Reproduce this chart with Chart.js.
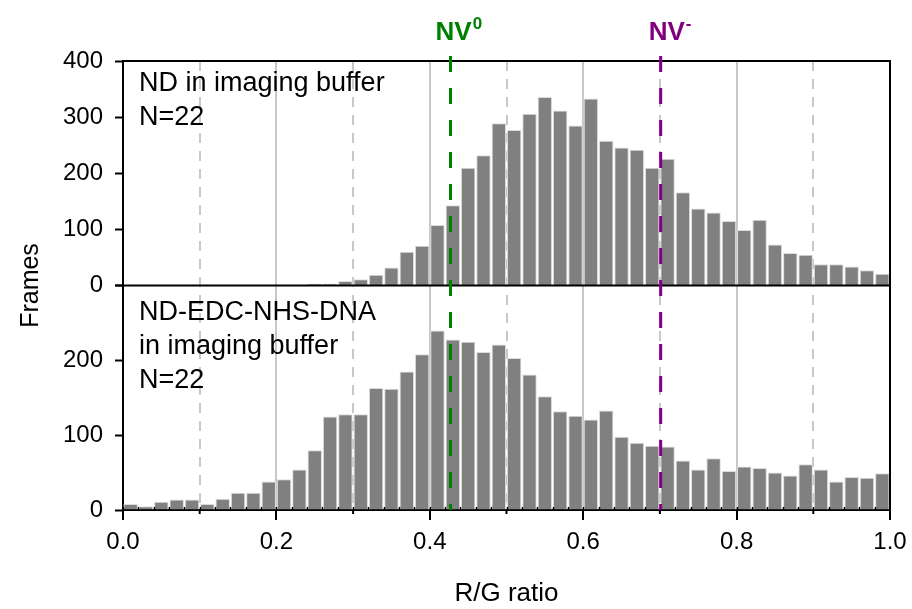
<!DOCTYPE html>
<html>
<head>
<meta charset="utf-8">
<script src="https://cdn.jsdelivr.net/npm/chart.js@4.4.1/dist/chart.umd.min.js"></script>
<style>
  html, body { margin: 0; padding: 0; background: #fff; }
  #wrap { width: 912px; height: 609px; }
</style>
</head>
<body>
<div id="wrap"><canvas id="ratioChart" width="912" height="609"></canvas></div>
<script>
// bin centres of the R/G ratio histogram (bin width 0.02)
const binCenters = [
  0.01, 0.03, 0.05, 0.07, 0.09, 0.11, 0.13, 0.15, 0.17, 0.19,
  0.21, 0.23, 0.25, 0.27, 0.29, 0.31, 0.33, 0.35, 0.37, 0.39,
  0.41, 0.43, 0.45, 0.47, 0.49, 0.51, 0.53, 0.55, 0.57, 0.59,
  0.61, 0.63, 0.65, 0.67, 0.69, 0.71, 0.73, 0.75, 0.77, 0.79,
  0.81, 0.83, 0.85, 0.87, 0.89, 0.91, 0.93, 0.95, 0.97, 0.99,
];

// top panel: ND in imaging buffer
const framesBuffer = [
  0, 0, 0, 0, 0, 0, 0, 0, 0, 0,
  0, 0, 3, 3, 8, 11, 19, 32, 60, 71,
  108, 143, 210, 232, 289, 277, 306, 336, 312, 285,
  333, 258, 246, 242, 210, 226, 166, 137, 130, 115,
  99, 117, 73, 58, 55, 38, 38, 34, 27, 21,
];

// bottom panel: ND-EDC-NHS-DNA in imaging buffer
const framesDna = [
  8, 5, 11, 14, 14, 8, 15, 23, 23, 38,
  41, 54, 80, 125, 128, 128, 163, 162, 185, 208,
  240, 228, 225, 211, 221, 203, 181, 152, 132, 126,
  121, 133, 98, 90, 86, 85, 66, 54, 69, 52,
  58, 56, 50, 46, 61, 54, 38, 44, 43, 49,
];

const topLabelLines = ["ND in imaging buffer", "N=22"];
const bottomLabelLines = ["ND-EDC-NHS-DNA", "in imaging buffer", "N=22"];

const nv0Ratio = 0.427;
const nvMinusRatio = 0.701;

const FONT = '"Liberation Sans", Arial, Helvetica, sans-serif';
const NV0_COLOR = "#008000";
const NVM_COLOR = "#800080";

Chart.defaults.font.family = FONT;
Chart.defaults.color = "#000";

function toPoints(values) {
  return binCenters.map((x, i) => ({ x, y: values[i] }));
}

function isOddTenth(value) {
  return Math.round(value * 10) % 2 === 1;
}

const decorPlugin = {
  id: "decorPlugin",
  afterDatasetsDraw(chart) {
    const { ctx, chartArea, scales } = chart;
    const { x, yTop } = scales;
    const mid = yTop.getPixelForValue(0);
    ctx.save();
    ctx.strokeStyle = "#000";
    ctx.lineWidth = 2;
    ctx.beginPath();
    ctx.moveTo(chartArea.left - 1, chartArea.top);
    ctx.lineTo(chartArea.right + 1, chartArea.top);
    ctx.moveTo(chartArea.right, chartArea.top);
    ctx.lineTo(chartArea.right, chartArea.bottom);
    ctx.moveTo(chartArea.left, mid);
    ctx.lineTo(chartArea.right, mid);
    ctx.stroke();

    // small inward ticks at bin edges on the bottom axis
    ctx.lineWidth = 1.5;
    ctx.beginPath();
    binCenters.forEach((c) => {
      const px = Math.round(x.getPixelForValue(c - 0.01)) + 0.5;
      ctx.moveTo(px, chartArea.bottom);
      ctx.lineTo(px, chartArea.bottom - 3);
    });
    ctx.stroke();

    // short outward ticks at odd tenths
    ctx.lineWidth = 2;
    ctx.beginPath();
    x.ticks.forEach((t) => {
      if (!isOddTenth(t.value)) return;
      const px = x.getPixelForValue(t.value);
      ctx.moveTo(px, chartArea.bottom);
      ctx.lineTo(px, chartArea.bottom + 4);
    });
    ctx.stroke();

    // NV reference lines
    ctx.lineWidth = 3;
    ctx.setLineDash([16, 16]);
    [[nv0Ratio, NV0_COLOR], [nvMinusRatio, NVM_COLOR]].forEach(([v, color]) => {
      const px = x.getPixelForValue(v);
      ctx.strokeStyle = color;
      ctx.beginPath();
      ctx.moveTo(px, chartArea.top - 5);
      ctx.lineTo(px, chartArea.bottom);
      ctx.stroke();
    });
    ctx.restore();
  },
  afterDraw(chart) {
    const { ctx, chartArea, scales } = chart;
    const { x, yTop } = scales;
    const mid = yTop.getPixelForValue(0);
    ctx.save();
    ctx.fillStyle = "#000";
    ctx.textBaseline = "alphabetic";
    ctx.textAlign = "left";
    ctx.font = `27px ${FONT}`;
    topLabelLines.forEach((line, i) => {
      ctx.fillText(line, chartArea.left + 16, chartArea.top + 30 + i * 34);
    });
    bottomLabelLines.forEach((line, i) => {
      ctx.fillText(line, chartArea.left + 16, mid + 34 + i * 34);
    });

    // y title
    ctx.save();
    ctx.translate(31, (chartArea.top + chartArea.bottom) / 2);
    ctx.rotate(-Math.PI / 2);
    ctx.textAlign = "center";
    ctx.textBaseline = "middle";
    ctx.font = `25px ${FONT}`;
    ctx.fillText("Frames", 0, 0);
    ctx.restore();

    // NV labels
    const drawNv = (value, color, sup, dx) => {
      const px = x.getPixelForValue(value) + dx;
      ctx.fillStyle = color;
      ctx.font = `bold 26px ${FONT}`;
      ctx.fillText("NV", px, 40);
      const w = ctx.measureText("NV").width;
      ctx.font = `bold 17px ${FONT}`;
      ctx.fillText(sup, px + w + 1, 29);
    };
    drawNv(nv0Ratio, NV0_COLOR, "0", -15);
    drawNv(nvMinusRatio, NVM_COLOR, "-", -12);
    ctx.restore();
  },
};

const barStyle = {
  backgroundColor: "#808080",
  borderColor: "#dcdcdc",
  borderWidth: 1,
  grouped: false,
  categoryPercentage: 1,
  barPercentage: 0.94,
};

new Chart(document.getElementById("ratioChart"), {
  type: "bar",
  data: {
    datasets: [
      { label: "ND in imaging buffer", data: toPoints(framesBuffer), yAxisID: "yTop", ...barStyle },
      { label: "ND-EDC-NHS-DNA in imaging buffer", data: toPoints(framesDna), yAxisID: "yBot", ...barStyle },
    ],
  },
  options: {
    responsive: false,
    animation: false,
    layout: { padding: { top: 61, right: 22, left: 0, bottom: 0 } },
    plugins: { legend: { display: false }, tooltip: { enabled: false } },
    scales: {
      x: {
        type: "linear",
        min: 0,
        max: 1,
        offset: false,
        afterFit: (scale) => {
          scale.height = 99;
          scale.paddingLeft = 0;
          scale.paddingRight = 0;
        },
        ticks: {
          stepSize: 0.1,
          autoSkip: false,
          maxRotation: 0,
          padding: 8,
          font: { size: 24 },
          callback: (v) => (isOddTenth(v) ? "" : v.toFixed(1)),
        },
        grid: {
          offset: false,
          lineWidth: 2,
          tickLength: 10,
          tickWidth: 2,
          color: (c) => {
            if (!c.tick) return "#c8c8c8";
            const v = c.tick.value;
            return v < 0.05 || v > 0.95 ? "rgba(0,0,0,0)" : "#c8c8c8";
          },
          tickColor: (c) => (c.tick && isOddTenth(c.tick.value) ? "rgba(0,0,0,0)" : "#000"),
        },
        border: {
          color: "#000",
          width: 2,
          dash: (c) => (c.tick && isOddTenth(c.tick.value) ? [10, 8] : []),
        },
        title: {
          display: true,
          text: "R/G ratio",
          font: { size: 26 },
          padding: { top: 4, bottom: 0 },
        },
      },
      yBot: {
        type: "linear",
        position: "left",
        stack: "panels",
        stackWeight: 1,
        min: 0,
        max: 300,
        afterFit: (scale) => { scale.width = 123; },
        ticks: {
          stepSize: 100,
          padding: 12,
          font: { size: 24 },
          callback: (v) => (v >= 300 ? "" : v),
        },
        grid: { drawOnChartArea: false, tickLength: 8, tickWidth: 2, tickColor: "#000" },
        border: { color: "#000", width: 2 },
      },
      yTop: {
        type: "linear",
        position: "left",
        stack: "panels",
        stackWeight: 1,
        min: 0,
        max: 400,
        afterFit: (scale) => { scale.width = 123; },
        ticks: { stepSize: 100, padding: 12, font: { size: 24 } },
        grid: { drawOnChartArea: false, tickLength: 8, tickWidth: 2, tickColor: "#000" },
        border: { color: "#000", width: 2 },
      },
    },
  },
  plugins: [decorPlugin],
});
</script>
</body>
</html>
